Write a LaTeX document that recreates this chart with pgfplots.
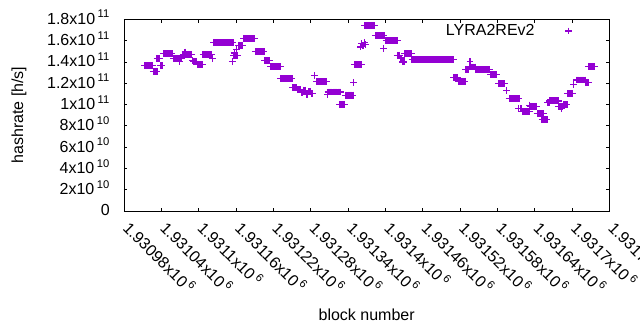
\documentclass[border=0pt]{standalone}
\usepackage{fontspec}
\setmainfont{Liberation Sans}
\usepackage{pgfplots}
\pgfplotsset{compat=1.18}
\definecolor{gpviolet}{RGB}{148,0,211}
\newcommand{\sci}[2]{#1x10\hspace{2.5pt}\textsuperscript{#2}}
\begin{document}
\begin{tikzpicture}
\begin{axis}[
  scale only axis,
  width=485.3pt, height=191.7pt,
  xmin=980, xmax=1760, ymin=0, ymax=1.8e11,
  axis line style={black, line width=0.8pt},
  major tick style={black, line width=0.8pt},
  major tick length=3.5pt,
  tick align=inside,
  scaled x ticks=false, scaled y ticks=false,
  xtick={980,1040,1100,1160,1220,1280,1340,1400,1460,1520,1580,1640,1700,1760},
  xticklabels={\sci{1.93098}{6},\sci{1.93104}{6},\sci{1.9311}{6},\sci{1.93116}{6},\sci{1.93122}{6},\sci{1.93128}{6},\sci{1.93134}{6},\sci{1.9314}{6},\sci{1.93146}{6},\sci{1.93152}{6},\sci{1.93158}{6},\sci{1.93164}{6},\sci{1.9317}{6},\sci{1.93176}{6}},
  ytick={0,2e10,4e10,6e10,8e10,1e11,1.2e11,1.4e11,1.6e11,1.8e11},
  yticklabels={0,\sci{2}{10},\sci{4}{10},\sci{6}{10},\sci{8}{10},\sci{1}{11},\sci{1.2}{11},\sci{1.4}{11},\sci{1.6}{11},\sci{1.8}{11}},
  every tick label/.append style={font=\fontsize{16}{18}\selectfont, inner sep=0pt},
  xticklabel style={xshift=8pt, yshift=-8pt, rotate=-45, anchor=north west},
  yticklabel style={xshift=-14pt, yshift=-4.9pt, anchor=base east},
  xlabel={block number},
  ylabel={hashrate [h/s]},
  label style={font=\fontsize{16}{18}\selectfont},
  xlabel style={at={(axis description cs:0.5,-0.5722)}, anchor=base},
  ylabel style={at={(axis description cs:-0.2081,0.5)}, anchor=base},
  legend plot pos=right,
  legend style={draw=none, fill=none, inner sep=0pt, outer sep=0pt,
    font=\fontsize{16}{18}\selectfont, nodes={inner sep=0pt},
    at={(axis description cs:0.6635,0.939)}, anchor=west},
  legend image code/.code={\path (0pt,0pt); \draw[#1] plot coordinates {(33.7pt,0pt)};},
]
% x = block number - 1930000, y = hashrate in h/s
\addplot[only marks, mark=+, mark size=3.4pt, color=gpviolet, mark options={line width=1.25pt}]
table[row sep=\\] {
x y\\
1013 1.366e11\\ 1015 1.366e11\\ 1017 1.366e11\\ 1019 1.366e11\\ 1021 1.366e11\\ 1023 1.366e11\\ 1025 1.366e11\\ 1026 1.366e11\\
1027 1.310e11\\ 1029 1.310e11\\ 1031 1.310e11\\ 1033 1.310e11\\
1033 1.432e11\\ 1035 1.432e11\\ 1037 1.432e11\\
1039 1.366e11\\ 1041 1.366e11\\
1043 1.478e11\\ 1045 1.478e11\\ 1047 1.478e11\\ 1049 1.478e11\\ 1051 1.478e11\\ 1053 1.478e11\\ 1055 1.478e11\\ 1057 1.478e11\\
1059 1.432e11\\ 1061 1.432e11\\ 1063 1.432e11\\ 1065 1.432e11\\ 1067 1.432e11\\ 1069 1.432e11\\ 1071 1.432e11\\ 1073 1.432e11\\
1069 1.406e11\\ 1078 1.493e11\\
1075 1.472e11\\ 1077 1.472e11\\ 1079 1.472e11\\ 1081 1.472e11\\ 1083 1.472e11\\ 1085 1.472e11\\ 1087 1.472e11\\ 1089 1.472e11\\
1090 1.415e11\\
1092 1.404e11\\ 1094 1.404e11\\ 1096 1.404e11\\
1098 1.378e11\\ 1100 1.378e11\\ 1102 1.378e11\\ 1104 1.378e11\\ 1106 1.378e11\\
1107 1.469e11\\ 1109 1.469e11\\ 1111 1.469e11\\ 1113 1.469e11\\ 1115 1.469e11\\ 1117 1.469e11\\ 1119 1.469e11\\ 1121 1.469e11\\
1122 1.432e11\\
1124 1.580e11\\ 1126 1.580e11\\ 1128 1.580e11\\ 1130 1.580e11\\ 1132 1.580e11\\ 1134 1.580e11\\ 1136 1.580e11\\ 1138 1.580e11\\
1140 1.580e11\\ 1142 1.580e11\\ 1144 1.580e11\\ 1146 1.580e11\\ 1148 1.580e11\\ 1150 1.580e11\\ 1152 1.580e11\\ 1154 1.580e11\\ 1155 1.580e11\\
1154 1.403e11\\
1156 1.463e11\\ 1158 1.463e11\\ 1160 1.463e11\\ 1162 1.463e11\\
1157 1.483e11\\ 1161 1.519e11\\
1164 1.556e11\\ 1166 1.556e11\\ 1168 1.556e11\\ 1170 1.556e11\\
1172 1.619e11\\ 1174 1.619e11\\ 1176 1.619e11\\ 1178 1.619e11\\ 1180 1.619e11\\ 1182 1.619e11\\ 1184 1.619e11\\ 1186 1.619e11\\ 1188 1.619e11\\ 1190 1.619e11\\
1191 1.495e11\\ 1193 1.495e11\\ 1195 1.495e11\\ 1197 1.495e11\\ 1199 1.495e11\\ 1201 1.495e11\\ 1203 1.495e11\\ 1205 1.495e11\\
1206 1.413e11\\ 1208 1.413e11\\ 1210 1.413e11\\ 1212 1.413e11\\ 1214 1.413e11\\
1215 1.357e11\\ 1217 1.357e11\\ 1219 1.357e11\\ 1221 1.357e11\\ 1223 1.357e11\\ 1225 1.357e11\\ 1227 1.357e11\\ 1229 1.357e11\\ 1231 1.357e11\\
1232 1.244e11\\ 1234 1.244e11\\ 1236 1.244e11\\ 1238 1.244e11\\ 1240 1.244e11\\ 1242 1.244e11\\ 1244 1.244e11\\ 1246 1.244e11\\ 1248 1.244e11\\ 1250 1.244e11\\
1251 1.158e11\\ 1253 1.158e11\\ 1255 1.158e11\\ 1257 1.158e11\\
1259 1.140e11\\ 1261 1.140e11\\ 1263 1.140e11\\
1265 1.116e11\\ 1267 1.116e11\\
1269 1.135e11\\ 1271 1.135e11\\
1273 1.095e11\\ 1275 1.095e11\\
1277 1.120e11\\ 1279 1.120e11\\
1281 1.100e11\\ 1283 1.100e11\\
1286 1.272e11\\
1290 1.214e11\\ 1292 1.214e11\\ 1294 1.214e11\\ 1296 1.214e11\\ 1298 1.214e11\\ 1300 1.214e11\\ 1302 1.214e11\\ 1304 1.214e11\\ 1306 1.214e11\\
1307 1.094e11\\
1308 1.118e11\\ 1310 1.118e11\\ 1312 1.118e11\\ 1314 1.118e11\\ 1316 1.118e11\\ 1318 1.118e11\\ 1320 1.118e11\\ 1322 1.118e11\\ 1324 1.118e11\\ 1326 1.118e11\\ 1328 1.118e11\\
1327 0.998e11\\ 1329 0.998e11\\ 1331 0.998e11\\ 1333 0.998e11\\ 1335 0.998e11\\
1336 1.088e11\\ 1338 1.088e11\\ 1340 1.088e11\\ 1342 1.088e11\\ 1344 1.088e11\\ 1346 1.088e11\\ 1348 1.088e11\\
1349 1.207e11\\
1350 1.375e11\\ 1352 1.375e11\\ 1354 1.375e11\\ 1356 1.375e11\\ 1358 1.375e11\\ 1360 1.375e11\\ 1362 1.375e11\\
1360 1.54e11\\ 1362 1.57e11\\ 1364 1.55e11\\ 1366 1.58e11\\ 1368 1.56e11\\
1367 1.744e11\\ 1369 1.744e11\\ 1371 1.744e11\\ 1373 1.744e11\\ 1375 1.744e11\\ 1377 1.744e11\\ 1379 1.744e11\\ 1381 1.744e11\\ 1383 1.744e11\\
1384 1.645e11\\ 1386 1.645e11\\ 1388 1.645e11\\ 1390 1.645e11\\ 1392 1.645e11\\ 1394 1.645e11\\ 1396 1.645e11\\ 1398 1.645e11\\
1397 1.525e11\\
1401 1.600e11\\ 1403 1.600e11\\ 1405 1.600e11\\ 1407 1.600e11\\ 1409 1.600e11\\ 1411 1.600e11\\ 1413 1.600e11\\ 1415 1.600e11\\ 1417 1.600e11\\ 1419 1.600e11\\
1419 1.463e11\\ 1421 1.463e11\\ 1423 1.463e11\\
1424 1.437e11\\ 1426 1.437e11\\
1428 1.400e11\\ 1430 1.400e11\\
1431 1.478e11\\ 1433 1.478e11\\ 1435 1.478e11\\ 1437 1.478e11\\ 1439 1.478e11\\ 1441 1.478e11\\ 1442 1.478e11\\
1443 1.422e11\\ 1445 1.422e11\\ 1447 1.422e11\\ 1449 1.422e11\\ 1451 1.422e11\\ 1453 1.422e11\\ 1455 1.422e11\\ 1457 1.422e11\\ 1459 1.422e11\\
1461 1.422e11\\ 1463 1.422e11\\ 1465 1.422e11\\ 1467 1.422e11\\ 1469 1.422e11\\ 1471 1.422e11\\ 1473 1.422e11\\ 1475 1.422e11\\ 1477 1.422e11\\
1479 1.422e11\\ 1481 1.422e11\\ 1483 1.422e11\\ 1485 1.422e11\\ 1487 1.422e11\\ 1489 1.422e11\\ 1491 1.422e11\\ 1493 1.422e11\\ 1495 1.422e11\\
1497 1.422e11\\ 1499 1.422e11\\ 1501 1.422e11\\ 1503 1.422e11\\ 1505 1.422e11\\ 1507 1.422e11\\ 1509 1.422e11\\
1510 1.253e11\\ 1512 1.253e11\\ 1514 1.253e11\\ 1516 1.253e11\\
1518 1.219e11\\ 1520 1.219e11\\ 1522 1.219e11\\ 1524 1.219e11\\ 1526 1.219e11\\ 1528 1.219e11\\
1529 1.328e11\\ 1531 1.328e11\\ 1533 1.328e11\\
1536 1.403e11\\
1536 1.353e11\\ 1538 1.353e11\\ 1540 1.353e11\\ 1542 1.353e11\\ 1544 1.353e11\\
1545 1.328e11\\ 1547 1.328e11\\ 1549 1.328e11\\ 1551 1.328e11\\ 1553 1.328e11\\ 1555 1.328e11\\ 1557 1.328e11\\ 1559 1.328e11\\ 1561 1.328e11\\ 1563 1.328e11\\ 1565 1.328e11\\ 1567 1.328e11\\
1569 1.280e11\\ 1571 1.280e11\\ 1573 1.280e11\\ 1575 1.280e11\\ 1577 1.280e11\\ 1579 1.280e11\\
1582 1.197e11\\ 1584 1.197e11\\ 1586 1.197e11\\ 1588 1.197e11\\ 1590 1.197e11\\ 1592 1.197e11\\
1595 1.132e11\\
1599 1.055e11\\ 1601 1.055e11\\ 1603 1.055e11\\ 1605 1.055e11\\ 1607 1.055e11\\ 1609 1.055e11\\ 1611 1.055e11\\ 1613 1.055e11\\ 1615 1.055e11\\
1614 0.960e11\\ 1618 0.960e11\\
1620 0.931e11\\ 1622 0.931e11\\ 1624 0.931e11\\ 1626 0.931e11\\ 1628 0.931e11\\ 1630 0.931e11\\ 1632 0.931e11\\
1632 0.994e11\\
1633 0.984e11\\ 1635 0.984e11\\ 1637 0.984e11\\ 1639 0.984e11\\ 1641 0.984e11\\ 1643 0.984e11\\
1644 0.916e11\\ 1646 0.916e11\\ 1648 0.916e11\\ 1650 0.916e11\\ 1652 0.916e11\\ 1654 0.916e11\\
1652 0.858e11\\ 1654 0.858e11\\ 1656 0.858e11\\ 1658 0.858e11\\ 1660 0.858e11\\
1661 1.016e11\\ 1663 1.016e11\\
1664 1.034e11\\ 1666 1.034e11\\ 1668 1.034e11\\ 1670 1.034e11\\ 1672 1.034e11\\ 1674 1.034e11\\ 1676 1.034e11\\ 1678 1.034e11\\
1678 0.982e11\\ 1680 0.982e11\\ 1682 0.982e11\\ 1684 0.982e11\\
1683 0.963e11\\
1686 0.998e11\\ 1688 0.998e11\\ 1690 0.998e11\\ 1692 0.998e11\\
1693 1.103e11\\ 1695 1.103e11\\ 1697 1.103e11\\ 1699 1.103e11\\ 1701 1.103e11\\
1703 1.188e11\\
1707 1.230e11\\ 1709 1.230e11\\ 1711 1.230e11\\ 1713 1.230e11\\ 1715 1.230e11\\ 1717 1.230e11\\ 1719 1.230e11\\ 1721 1.230e11\\
1722 1.2075e11\\ 1724 1.2075e11\\ 1726 1.2075e11\\
1727 1.357e11\\ 1729 1.357e11\\ 1731 1.357e11\\ 1733 1.357e11\\ 1735 1.357e11\\ 1736 1.357e11\\
};
\addlegendentry{LYRA2REv2}
\end{axis}
\pgfresetboundingbox
\useasboundingbox (-124pt,-119pt) rectangle (516pt,211pt);
\end{tikzpicture}
\end{document}
